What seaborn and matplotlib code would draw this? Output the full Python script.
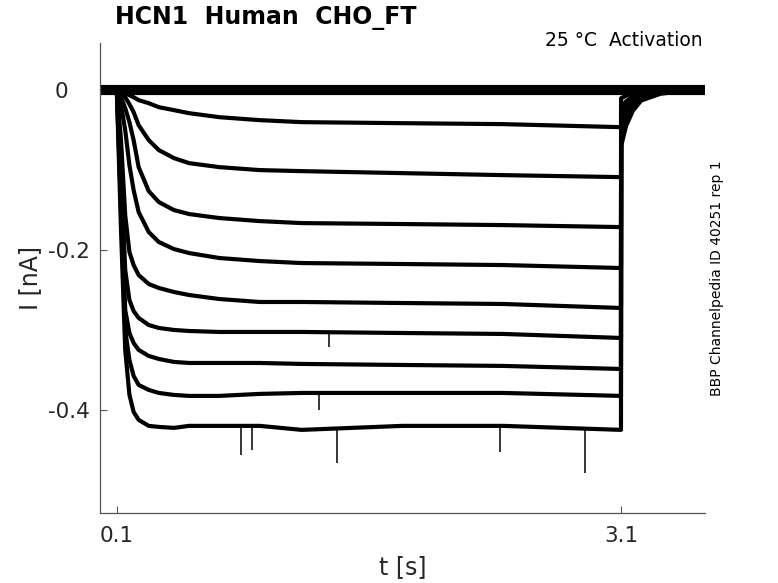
import numpy as np
import pandas as pd
import matplotlib
matplotlib.use("Agg")
import matplotlib.pyplot as plt
import matplotlib.transforms as mtransforms
import seaborn as sns

# ---- data ----
t_grid = [0.0, 0.1, 0.125, 0.15, 0.175, 0.2, 0.23, 0.29, 0.35, 0.44, 0.53, 0.71,
          0.95, 1.2, 1.8, 2.4, 3.1, 3.101, 3.13, 3.17, 3.22, 3.34, 3.6]

trace_A1 = [0.004] * 23
trace_A2 = [0.0] * 23
trace_A3 = [-0.004] * 23
trace_B = [0, 0, -0.0013, -0.0038, -0.0063, -0.0088, -0.0125, -0.0163, -0.0213, -0.025, -0.0288,
           -0.0338, -0.0375, -0.040, -0.0413, -0.0425, -0.0463, -0.010, -0.007, -0.004, -0.002, -0.001, 0]
trace_C = [0, 0, -0.0025, -0.0088, -0.0175, -0.0275, -0.0438, -0.0625, -0.075, -0.085, -0.0913,
           -0.0963, -0.100, -0.1013, -0.1038, -0.1063, -0.1088, -0.022, -0.014, -0.008, -0.004, -0.001, 0]
trace_D = [0, 0, -0.0088, -0.0225, -0.040, -0.0625, -0.0963, -0.1263, -0.140, -0.150, -0.155,
           -0.160, -0.1638, -0.1663, -0.1675, -0.1688, -0.1713, -0.033, -0.021, -0.012, -0.006, -0.002, 0]
trace_E = [0, 0, -0.0188, -0.050, -0.0938, -0.125, -0.1525, -0.1775, -0.190, -0.1988, -0.2038,
           -0.210, -0.2138, -0.2163, -0.2175, -0.2188, -0.2225, -0.043, -0.028, -0.016, -0.008, -0.002, 0]
trace_F = [0, 0, -0.0625, -0.1563, -0.2025, -0.2188, -0.2313, -0.2425, -0.2475, -0.2525, -0.2563,
           -0.2613, -0.265, -0.265, -0.2663, -0.2675, -0.2725, -0.050, -0.032, -0.018, -0.009, -0.003, 0]
trace_G = [0, 0, -0.100, -0.225, -0.2625, -0.2763, -0.285, -0.2938, -0.2975, -0.300, -0.3013,
           -0.3025, -0.3025, -0.3025, -0.3038, -0.305, -0.310, -0.055, -0.036, -0.020, -0.010, -0.003, 0]
trace_H = [0, 0, -0.125, -0.275, -0.3038, -0.3163, -0.325, -0.3325, -0.3363, -0.340, -0.3413,
           -0.3413, -0.3413, -0.3425, -0.3438, -0.345, -0.3488, -0.060, -0.039, -0.022, -0.011, -0.003, 0]
trace_I = [0, 0, -0.150, -0.300, -0.3375, -0.3575, -0.3688, -0.375, -0.3788, -0.3813, -0.3825,
           -0.3825, -0.380, -0.3788, -0.3788, -0.3788, -0.3825, -0.065, -0.042, -0.024, -0.012, -0.004, 0]
trace_J = [0, 0, -0.175, -0.325, -0.381, -0.4025, -0.4125, -0.420, -0.4213, -0.4225, -0.4200,
           -0.4200, -0.4200, -0.4250, -0.4200, -0.4200, -0.425, -0.070, -0.045, -0.026, -0.013, -0.004, 0]

traces = {"A1": trace_A1, "A2": trace_A2, "A3": trace_A3, "B": trace_B, "C": trace_C,
          "D": trace_D, "E": trace_E, "F": trace_F, "G": trace_G, "H": trace_H,
          "I": trace_I, "J": trace_J}

# spikes: time, trace level, spike tip
spike_t = [0.840, 0.905, 1.412, 2.378, 2.885, 1.305, 1.364]
spike_base = [-0.420, -0.420, -0.421, -0.420, -0.421, -0.379, -0.3025]
spike_tip = [-0.456, -0.450, -0.466, -0.4525, -0.479, -0.400, -0.321]

x_ticks = [0.1, 3.1]
x_ticklabels = ["0.1", "3.1"]
y_ticks = [-0.4, -0.2, 0]
y_ticklabels = ["-0.4", "-0.2", "0"]

# ---- build long table ----
rows = []
for name, vals in traces.items():
    for t, v in zip(t_grid, vals):
        rows.append({"t": t, "I": v, "trace": name})
df = pd.DataFrame(rows)

sns.set_theme(style="white")
plt.rcParams["font.family"] = ["DejaVu Sans"]
plt.rcParams["axes.unicode_minus"] = False

fig = plt.figure(figsize=(7.78, 5.83), dpi=100)
ax = fig.add_axes([100 / 778, 1 - 513 / 583, 605 / 778, 470 / 583])

sns.lineplot(data=df, x="t", y="I", units="trace", estimator=None, sort=False,
             color="black", lw=3.0, ax=ax, legend=False)
ax.vlines(spike_t, spike_base, spike_tip, color="black", lw=1.1)

ax.set_xlim(0.0, 3.6)
ax.set_ylim(-0.529, 0.059)

for s in ["top", "right"]:
    ax.spines[s].set_visible(False)
for s in ["left", "bottom"]:
    ax.spines[s].set_color("#555555")
    ax.spines[s].set_linewidth(0.9)

ax.set_xticks(x_ticks)
ax.set_xticklabels(x_ticklabels)
ax.set_yticks(y_ticks)
ax.set_yticklabels(y_ticklabels)
ax.tick_params(axis="both", direction="in", length=5, width=0.8, color="#555555",
               labelsize=15.5, labelcolor="#262626", bottom=True, left=True)
ax.tick_params(axis="y", pad=7)
ax.tick_params(axis="x", pad=9)

# shift the "0" label like the reference
for lbl in ax.get_yticklabels():
    if lbl.get_text() == "0":
        lbl.set_transform(lbl.get_transform() +
                          mtransforms.ScaledTranslation(-0.22, 0, fig.dpi_scale_trans))

ax.set_xlabel("t [s]", fontsize=17, color="#262626")
ax.set_ylabel("I [nA]", fontsize=17, color="#262626")
ax.xaxis.set_label_coords(0.5, -0.115)
ax.yaxis.set_label_coords(-0.116, 0.5)
ax.xaxis.label.set_va("center")
ax.yaxis.label.set_va("center")

fig.text(115 / 778, 1 - 18 / 583, "HCN1  Human  CHO_FT", fontsize=17, fontweight="bold",
         ha="left", va="center", color="black")
fig.text(703 / 778, 1 - 40 / 583, "25 °C  Activation", fontsize=13.5, ha="right", va="center",
         color="black")
fig.text(717 / 778, 1 - 278 / 583, "BBP Channelpedia ID 40251 rep 1", fontsize=10,
         rotation=90, ha="center", va="center", color="black")

fig.savefig("out.png", dpi=100, facecolor="white")
